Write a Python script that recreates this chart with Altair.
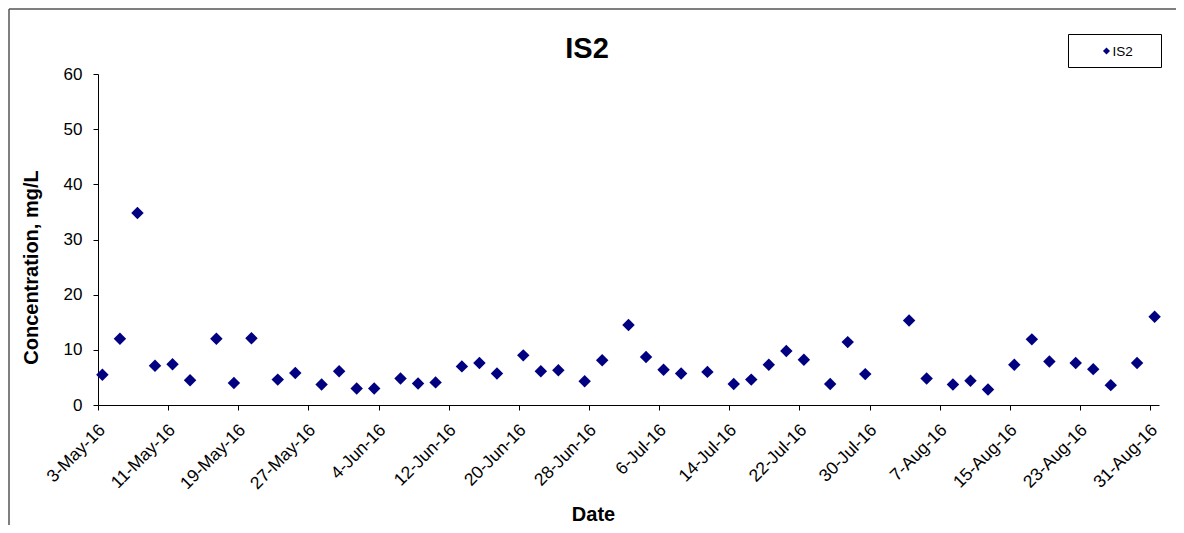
import altair as alt
import pandas as pd

# ---------------- data ----------------
dates = [
    "2016-05-03", "2016-05-05", "2016-05-07", "2016-05-09", "2016-05-11", "2016-05-13",
    "2016-05-16", "2016-05-18", "2016-05-20", "2016-05-23", "2016-05-25", "2016-05-28",
    "2016-05-30", "2016-06-01", "2016-06-03", "2016-06-06", "2016-06-08", "2016-06-10",
    "2016-06-13", "2016-06-15", "2016-06-17", "2016-06-20", "2016-06-22", "2016-06-24",
    "2016-06-27", "2016-06-29", "2016-07-02", "2016-07-04", "2016-07-06", "2016-07-08",
    "2016-07-11", "2016-07-14", "2016-07-16", "2016-07-18", "2016-07-20", "2016-07-22",
    "2016-07-25", "2016-07-27", "2016-07-29", "2016-08-03", "2016-08-05", "2016-08-08",
    "2016-08-10", "2016-08-12", "2016-08-15", "2016-08-17", "2016-08-19", "2016-08-22",
    "2016-08-24", "2016-08-26", "2016-08-29", "2016-08-31",
]
values = [
    5.5, 12.0, 34.8, 7.1, 7.4, 4.5,
    12.0, 4.0, 12.1, 4.6, 5.8, 3.7,
    6.1, 3.0, 3.0, 4.8, 3.9, 4.1,
    7.0, 7.6, 5.7, 9.0, 6.1, 6.3,
    4.3, 8.1, 14.5, 8.7, 6.4, 5.7,
    6.0, 3.8, 4.6, 7.3, 9.8, 8.2,
    3.8, 11.4, 5.6, 15.3, 4.8, 3.7,
    4.4, 2.8, 7.3, 11.9, 7.9, 7.6,
    6.5, 3.6, 7.6, 16.0,
]
tick_dates = [
    "2016-05-03", "2016-05-11", "2016-05-19", "2016-05-27", "2016-06-04", "2016-06-12",
    "2016-06-20", "2016-06-28", "2016-07-06", "2016-07-14", "2016-07-22", "2016-07-30",
    "2016-08-07", "2016-08-15", "2016-08-23", "2016-08-31",
]
x_domain = ["2016-05-03", "2016-09-01"]
y_ticks = [0, 10, 20, 30, 40, 50, 60]
y_domain = [0, 60]
series_name = "IS2"
title_text = "IS2"
x_title = "Date"
y_title = "Concentration, mg/L"


def dt(s):
    y, m, d = map(int, s.split("-"))
    return alt.DateTime(year=y, month=m, date=d, utc=True)


df = pd.DataFrame({"date": dates, "value": values, "series": series_name})
one = pd.DataFrame({"series": [series_name], "title": [title_text]})

FONT = "Liberation Sans"
NAVY = "#000080"
W, H = 1061, 331
PAD_L, PAD_T, PAD_R, PAD_B = 90, 66, 17, 120

points = (
    alt.Chart(df)
    .transform_calculate(t="toDate(datum.date) + 12*3600*1000")
    .mark_point(shape="diamond", filled=True, size=155, color=NAVY, opacity=1)
    .encode(
        x=alt.X(
            "t:T",
            scale=alt.Scale(type="utc", domain=[dt(x_domain[0]), dt(x_domain[1])], nice=False),
            axis=alt.Axis(
                values=[dt(s) for s in tick_dates],
                labelExpr="utcFormat(datum.value, '%-d-%b-%y')",
                labelAngle=315,
                labelAlign="right",
                labelBaseline="middle",
                labelPadding=17,
                labelOffset=4,
                labelFontSize=17.5,
                labelOverlap=False,
                labelBound=False,
                labelFlush=False,
                title=x_title,
                titleX=495,
                titleY=115,
                titleAlign="center",
                titleBaseline="alphabetic",
                titleFontSize=20,
            ),
        ),
        y=alt.Y(
            "value:Q",
            scale=alt.Scale(domain=y_domain, nice=False, zero=True),
            axis=alt.Axis(
                values=y_ticks,
                labelFontSize=17,
                labelPadding=11,
                title=y_title,
                titleAngle=270,
                titleX=-67,
                titleY=193,
                titleAlign="center",
                titleBaseline="middle",
                titleFontSize=20,
            ),
        ),
    )
)

# chart title (as a text mark so that the frame does not push it away)
title_mark = alt.Chart(one).mark_text(
    align="center", baseline="alphabetic", font=FONT, fontSize=29, fontWeight="bold", color="black"
).encode(x=alt.value(489), y=alt.value(-16), text="title:N")

# legend box (drawn in Excel style)
legend_box = alt.Chart(one).mark_rect(fill="white", stroke="black", strokeWidth=1).encode(
    x=alt.value(970.5), x2=alt.value(1063.5), y=alt.value(-39.5), y2=alt.value(-6.5)
)
legend_sym = alt.Chart(one).mark_point(shape="diamond", filled=True, size=50, color=NAVY, opacity=1).encode(
    x=alt.value(1008.5), y=alt.value(-23)
)
legend_txt = alt.Chart(one).mark_text(
    align="left", baseline="middle", font=FONT, fontSize=13.5, color="black"
).encode(x=alt.value(1014.5), y=alt.value(-22.5), text="series:N")

# outer chart frame (left and top edges)
frame_left = alt.Chart(one).mark_rule(color="#555555", strokeWidth=1.5).encode(
    x=alt.value(-89), y=alt.value(-65), y2=alt.value(H + PAD_B)
)
frame_top = alt.Chart(one).mark_rule(color="#555555", strokeWidth=1.5).encode(
    x=alt.value(-89), x2=alt.value(W + PAD_R), y=alt.value(-65)
)

chart = (
    alt.layer(frame_left, frame_top, points, title_mark, legend_box, legend_sym, legend_txt)
    .properties(
        width=W,
        height=H,
        autosize=alt.AutoSizeParams(type="none"),
        padding={"left": PAD_L, "top": PAD_T, "right": PAD_R, "bottom": PAD_B},
        background="white",
    )
    .configure_view(stroke=None)
    .configure_axis(
        grid=False,
        domainColor="black",
        domainWidth=1,
        tickColor="black",
        tickSize=5,
        tickWidth=1,
        labelFont=FONT,
        labelColor="black",
        titleFont=FONT,
        titleFontWeight="bold",
        titleColor="black",
    )
)

chart.save("out.html", embed_options={"renderer": "svg", "actions": False})
